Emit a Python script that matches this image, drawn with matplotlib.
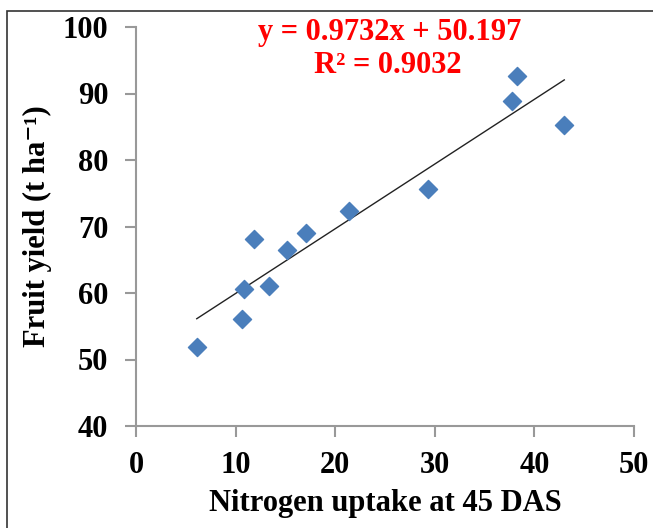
"""Fruit yield vs nitrogen uptake"""

import matplotlib

matplotlib.use("Agg")
import matplotlib.pyplot as plt
import numpy as np
from matplotlib.patches import Rectangle

# data
nitrogen_uptake = [6.1, 10.6, 10.8, 11.8, 13.4, 15.2, 17.1, 21.4, 29.3, 37.8, 38.3, 43.0]
fruit_yield = [51.9, 56.1, 60.6, 68.1, 61.1, 66.5, 69.0, 72.3, 75.6, 88.8, 92.7, 85.2]
slope, intercept = 0.9732, 50.197
r_squared = 0.9032
x_ticks = [0, 10, 20, 30, 40, 50]
y_ticks = [40, 50, 60, 70, 80, 90, 100]

plt.rcParams["font.family"] = ["Liberation Serif", "DejaVu Serif"]
plt.rcParams["font.weight"] = "bold"
FS = 22

fig = plt.figure(figsize=(6.53, 5.28), dpi=100)
ax = fig.add_axes([136 / 653, 1 - 426 / 528, (634 - 136) / 653, (426 - 27) / 528])

# outer frame of the figure
fig.patches.append(Rectangle((7 / 653, -0.05), 1.1, 1 - 11 / 528 + 0.05, transform=fig.transFigure,
                             fill=False, edgecolor="#333333", linewidth=1.2))

ax.scatter(nitrogen_uptake, fruit_yield, marker="D", s=85, color="#4a7ebb", zorder=3)

x_fit = np.array([min(nitrogen_uptake), max(nitrogen_uptake)])
ax.plot(x_fit, slope * x_fit + intercept, color="#222222", linewidth=1.0, zorder=2)

ax.set_xlim(0, 50)
ax.set_ylim(40, 100)
ax.set_xticks(x_ticks)
ax.set_yticks(y_ticks)
for side in ["top", "right"]:
    ax.spines[side].set_visible(False)
for side in ["left", "bottom"]:
    ax.spines[side].set_color("#999999")
    ax.spines[side].set_linewidth(1.5)
ax.tick_params(axis="both", direction="out", length=8, width=1.5, color="#999999",
               labelsize=FS)
ax.tick_params(axis="y", pad=12)
ax.tick_params(axis="x", pad=10)
for lbl in ax.get_xticklabels() + ax.get_yticklabels():
    lbl.set_fontweight("bold")

ax.set_xlabel("Nitrogen uptake at 45 DAS", fontsize=FS, fontweight="bold")
ax.set_ylabel("Fruit yield (t ha⁻¹)", fontsize=FS, fontweight="bold")
ax.xaxis.set_label_coords(0.5, -0.195)
ax.xaxis.label.set_va("center")
ax.yaxis.set_label_coords(-0.197, 0.5)
ax.yaxis.label.set_va("center")

ax.text(0.51, 0.985, f"y = {slope}x + {intercept}", transform=ax.transAxes, ha="center",
        va="center", color="#ff0000", fontsize=FS, fontweight="bold")
ax.text(0.505, 0.903, f"R² = {r_squared}", transform=ax.transAxes, ha="center",
        va="center", color="#ff0000", fontsize=FS, fontweight="bold")

plt.savefig("out.png", dpi=100)
plt.close()
